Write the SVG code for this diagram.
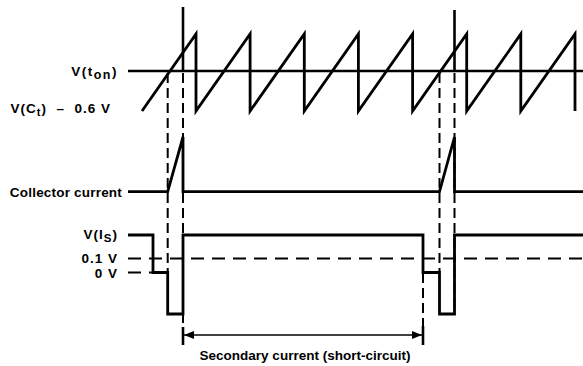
<svg xmlns="http://www.w3.org/2000/svg" width="583" height="366" viewBox="0 0 583 366">
<defs>
<style>
.lbl{font-family:"Liberation Sans",Arial,sans-serif;font-weight:bold;font-size:13.5px;fill:#000}
.sig{fill:none;stroke:#000;stroke-width:2.8;stroke-linejoin:miter;stroke-linecap:butt}
.ref{fill:none;stroke:#000;stroke-width:2.6}
.dv{fill:none;stroke:#000;stroke-width:2;stroke-dasharray:10 5}
.dh{fill:none;stroke:#000;stroke-width:2;stroke-dasharray:13 8}
.thin{fill:none;stroke:#000;stroke-width:1.6}
</style>
<marker id="ah" viewBox="0 0 10 8" refX="10" refY="4" markerWidth="10" markerHeight="8" markerUnits="userSpaceOnUse" orient="auto-start-reverse">
<path d="M0,0 L10,4 L0,8 Z" fill="#000"/>
</marker>
</defs>
<rect width="583" height="366" fill="#fff"/>

<g id="labels">
<text class="lbl" x="118" y="75.5" text-anchor="end" style="letter-spacing:1.5px">V(t<tspan font-size="12.5" dy="3">on</tspan><tspan dy="-3">)</tspan></text>
<text class="lbl" x="111" y="112.5" text-anchor="end" xml:space="preserve" style="letter-spacing:1px">V(C<tspan font-size="11" dy="3">t</tspan><tspan dy="-3">)  –  0.6 V</tspan></text>
<text class="lbl" x="122" y="196.5" text-anchor="end" style="letter-spacing:0.2px">Collector current</text>
<text class="lbl" x="118" y="239" text-anchor="end" style="letter-spacing:1px">V(I<tspan font-size="11.5" dy="3">S</tspan><tspan dy="-3">)</tspan></text>
<text class="lbl" x="118" y="263" text-anchor="end" style="letter-spacing:1px">0.1 V</text>
<text class="lbl" x="118" y="278" text-anchor="end" style="letter-spacing:1px">0 V</text>
<text class="lbl" x="305" y="359.5" text-anchor="middle">Secondary current (short-circuit)</text>
</g>

<g id="ramp">
<line class="ref" x1="128" y1="71" x2="583" y2="71"/>
<path class="sig" d="M142,111 L196,34 V111 L250.1,34 V111 L304.3,34 V111 L358.4,34 V111 L412.6,34 V111 L466.7,34 V111 L520.8,34 V111 L575,34 V111"/>
</g>

<g id="collector">
<path class="sig" d="M128,191.7 H167.7 L183,137 V191.7 H439.5 L454.5,137 V191.7 H583"/>
</g>

<g id="vis">
<path class="sig" d="M128,235 H153 V272.5 H167.7 V314 H183 V235 H423 V272.5 H439.5 V314 H454.5 V235 H583"/>
<line class="dh" x1="128" y1="258.5" x2="583" y2="258.5"/>
<line class="dh" x1="128" y1="272.5" x2="153" y2="272.5"/>
</g>

<g id="connectors">
<line class="ref" x1="183" y1="7" x2="183" y2="71"/>
<line class="ref" x1="454.5" y1="10" x2="454.5" y2="71"/>
<line class="dv" x1="167.7" y1="73" x2="167.7" y2="272"/>
<line class="dv" x1="183" y1="73" x2="183" y2="328"/>
<line class="dv" x1="439.5" y1="73" x2="439.5" y2="272"/>
<line class="dv" x1="454.5" y1="73" x2="454.5" y2="314"/>
<line class="dv" x1="423" y1="273" x2="423" y2="326"/>
<line class="ref" x1="183" y1="327" x2="183" y2="345" stroke-width="2"/>
<line class="ref" x1="423" y1="326" x2="423" y2="345" stroke-width="2"/>
<line class="thin" x1="184" y1="335" x2="422" y2="335" marker-start="url(#ah)" marker-end="url(#ah)"/>
</g>
</svg>
